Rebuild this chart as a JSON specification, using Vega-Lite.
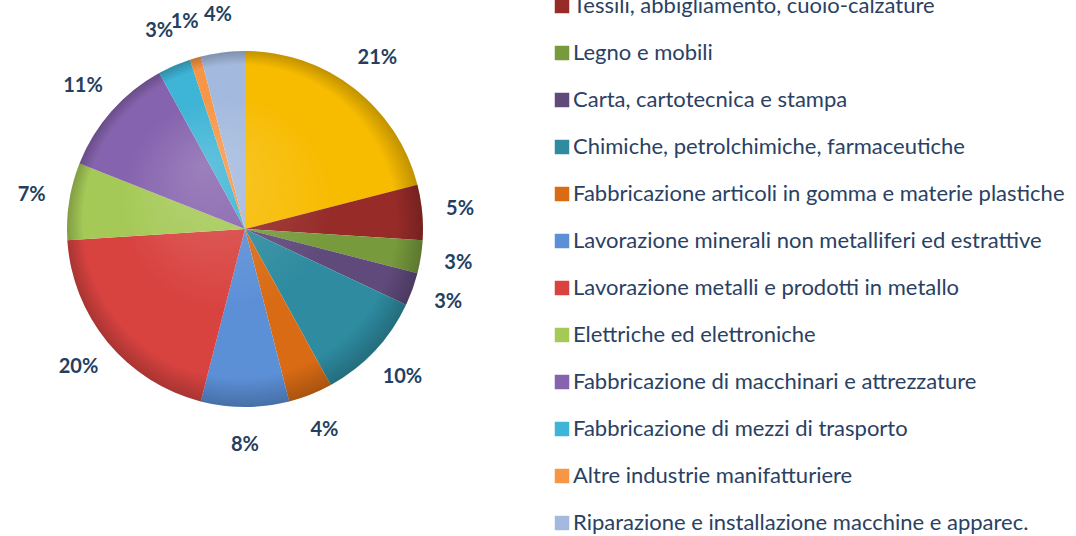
{
  "$schema": "https://vega.github.io/schema/vega-lite/v6.json",
  "autosize": {"type": "none"},
  "width": 490,
  "height": 458,
  "padding": {"left": 0, "top": 0, "right": 586, "bottom": 78},
  "background": "white",
  "config": {"view": {"stroke": null}},
  "data": {
    "values": [
      {"settore": "Alimentari e bevande", "quota": 0.21, "i": 1},
      {"settore": "Tessili, abbigliamento, cuoio-calzature", "quota": 0.05, "i": 2},
      {"settore": "Legno e mobili", "quota": 0.03, "i": 3},
      {"settore": "Carta, cartotecnica e stampa", "quota": 0.03, "i": 4},
      {"settore": "Chimiche, petrolchimiche, farmaceutiche", "quota": 0.10, "i": 5},
      {"settore": "Fabbricazione articoli in gomma e materie plastiche", "quota": 0.04, "i": 6},
      {"settore": "Lavorazione minerali non metalliferi ed estrattive", "quota": 0.08, "i": 7},
      {"settore": "Lavorazione metalli e prodotti in metallo", "quota": 0.20, "i": 8},
      {"settore": "Elettriche ed elettroniche", "quota": 0.07, "i": 9},
      {"settore": "Fabbricazione di macchinari e attrezzature", "quota": 0.11, "i": 10},
      {"settore": "Fabbricazione di mezzi di trasporto", "quota": 0.03, "i": 11},
      {"settore": "Altre industrie manifatturiere", "quota": 0.01, "i": 12},
      {"settore": "Riparazione e installazione macchine e apparec.", "quota": 0.04, "i": 13}
    ]
  },
  "encoding": {
    "theta": {"field": "quota", "type": "quantitative", "stack": true},
    "order": {"field": "i", "type": "quantitative"}
  },
  "layer": [
    {
      "mark": {"type": "arc", "radius": 178},
      "encoding": {
        "color": {
          "field": "settore",
          "type": "nominal",
          "sort": null,
          "scale": {
            "domain": [
              "Alimentari e bevande",
              "Tessili, abbigliamento, cuoio-calzature",
              "Legno e mobili",
              "Carta, cartotecnica e stampa",
              "Chimiche, petrolchimiche, farmaceutiche",
              "Fabbricazione articoli in gomma e materie plastiche",
              "Lavorazione minerali non metalliferi ed estrattive",
              "Lavorazione metalli e prodotti in metallo",
              "Elettriche ed elettroniche",
              "Fabbricazione di macchinari e attrezzature",
              "Fabbricazione di mezzi di trasporto",
              "Altre industrie manifatturiere",
              "Riparazione e installazione macchine e apparec."
            ],
            "range": ["#F7BB00", "#962B28", "#779A3C", "#604A7B", "#2E8BA0", "#D96B14", "#5B8FD6", "#D84340", "#A5C957", "#8663AE", "#3EB4D6", "#F79646", "#A3B9DD"]
          },
          "legend": {
            "orient": "none",
            "legendX": 551,
            "legendY": -52,
            "title": null,
            "padding": 0,
            "symbolType": "square",
            "symbolSize": 210,
            "symbolStrokeWidth": 0,
            "symbolOpacity": 1,
            "labelFont": "Lato",
            "labelFontSize": 22,
            "labelColor": "#2A4163",
            "labelLimit": 600,
            "labelOffset": 0,
            "rowPadding": 25
          }
        }
      }
    },
    {
      "data": {"values": [{}]},
      "mark": {
        "type": "arc",
        "radius": 178,
        "theta": 0,
        "theta2": 6.2832,
        "fill": {
          "gradient": "radial",
          "x1": 0.38, "y1": 0.32, "r1": 0,
          "x2": 0.5, "y2": 0.5, "r2": 0.5,
          "stops": [
            {"offset": 0, "color": "rgba(255,255,255,0.18)"},
            {"offset": 0.6, "color": "rgba(255,255,255,0)"},
            {"offset": 0.88, "color": "rgba(0,0,0,0)"},
            {"offset": 1, "color": "rgba(0,0,0,0.22)"}
          ]
        }
      },
      "encoding": {"theta": null, "order": null}
    },
    {
      "mark": {"type": "text", "radius": 216, "font": "Lato", "fontSize": 20, "fontWeight": "bold", "color": "#243F60"},
      "encoding": {
        "text": {"field": "quota", "type": "quantitative", "format": ".0%"}
      }
    }
  ]
}
